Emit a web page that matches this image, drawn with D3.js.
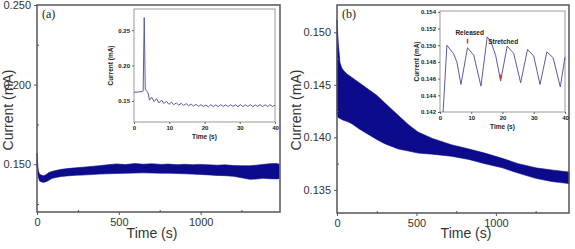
<!DOCTYPE html>
<html>
<head>
<meta charset="utf-8">
<script src="https://cdn.jsdelivr.net/npm/d3@7"></script>
<style>
	body { margin: 0; background: #fff; }
	svg { display: block; font-family: "Liberation Sans", Arial, sans-serif; }
</style>
</head>
<body>
<div id="chart"></div>
<script>
//Dados - painel (a): [tempo, inferior, superior] da faixa de ruído
var bandA = [
	[0, 0.150, 0.157], [3, 0.146, 0.152], [8, 0.142, 0.146], [15, 0.1395, 0.1438],
	[25, 0.1390, 0.1432], [40, 0.1386, 0.1428], [55, 0.1390, 0.1434], [70, 0.1398, 0.1446],
	[90, 0.1410, 0.1455], [115, 0.1417, 0.1461], [150, 0.1423, 0.1468], [200, 0.1428, 0.1474],
	[240, 0.1431, 0.1478], [280, 0.1432, 0.1481], [330, 0.1435, 0.1486], [380, 0.1438, 0.1491],
	[430, 0.1440, 0.1496], [485, 0.1442, 0.1502], [540, 0.1443, 0.1498], [600, 0.1445, 0.1504],
	[650, 0.1446, 0.1500], [700, 0.1445, 0.1503], [760, 0.1443, 0.1499], [800, 0.1444, 0.1501],
	[860, 0.1442, 0.1497], [900, 0.1440, 0.1500], [950, 0.1438, 0.1497], [995, 0.1436, 0.1499],
	[1050, 0.1433, 0.1496], [1100, 0.1430, 0.1494], [1150, 0.1428, 0.1496], [1200, 0.1424, 0.1492],
	[1250, 0.1415, 0.1491], [1300, 0.1405, 0.1490], [1340, 0.1407, 0.1494], [1380, 0.1412, 0.1499],
	[1420, 0.1409, 0.1503], [1465, 0.1408, 0.1505], [1480, 0.1410, 0.1500]
];
//Dados - painel (b)
var bandB = [
	[0, 0.1422, 0.1512], [3, 0.1420, 0.1503], [8, 0.1419, 0.1490], [19, 0.1418, 0.1471],
	[30, 0.1417, 0.1466], [45, 0.1416, 0.1463], [65, 0.1415, 0.1460], [94, 0.1413, 0.1457],
	[140, 0.1408, 0.1452], [195, 0.1403, 0.1446], [250, 0.1398, 0.1440], [300, 0.1394, 0.1433],
	[385, 0.1389, 0.1421], [450, 0.1387, 0.1412], [510, 0.1385, 0.1405], [600, 0.1384, 0.1399],
	[720, 0.1382, 0.1393], [830, 0.1379, 0.1389], [930, 0.1375, 0.1385], [1040, 0.1371, 0.1380],
	[1140, 0.1366, 0.1375], [1250, 0.1361, 0.1371], [1350, 0.1358, 0.1369], [1460, 0.1356, 0.1367]
];
//Detalhe (a): corrente nos primeiros 40 s
var insetA = [
	[0, 0.162], [2.3, 0.163], [2.6, 0.164], [2.9, 0.268], [3.2, 0.166], [3.6, 0.164],
	[4.0, 0.161], [4.4, 0.151], [5.0, 0.155], [5.7, 0.149], [6.4, 0.153], [7.1, 0.147],
	[7.8, 0.151], [8.5, 0.146], [9.2, 0.1495], [9.9, 0.145], [10.6, 0.148], [11.3, 0.1445],
	[12.0, 0.147], [12.7, 0.144], [13.4, 0.1465], [14.1, 0.1435], [14.8, 0.146], [15.5, 0.143],
	[16.2, 0.1455], [16.9, 0.1425], [17.6, 0.145], [18.3, 0.142], [19.0, 0.1445], [19.7, 0.142],
	[20.4, 0.144], [21.1, 0.1415], [21.8, 0.1445], [22.5, 0.1418], [23.2, 0.1442], [23.9, 0.1418],
	[24.6, 0.1445], [25.3, 0.142], [26.0, 0.1443], [26.7, 0.1418], [27.4, 0.1445], [28.1, 0.142],
	[28.8, 0.1443], [29.5, 0.1418], [30.2, 0.1445], [30.9, 0.1418], [31.6, 0.1443], [32.3, 0.142],
	[33.0, 0.1445], [33.7, 0.1418], [34.4, 0.1442], [35.1, 0.142], [35.8, 0.1445], [36.5, 0.1418],
	[37.2, 0.1443], [37.9, 0.142], [38.6, 0.1445], [39.3, 0.1419], [40, 0.1438]
];
//Detalhe (b): ciclos esticado / solto
var insetB = [
	[1.0, 0.1420], [2.2, 0.1500], [4.3, 0.1490], [5.4, 0.1480], [6.7, 0.1453], [8.8, 0.1497],
	[10.8, 0.1488], [13.1, 0.1451], [15.1, 0.1510], [16.2, 0.1505], [17.8, 0.1488], [19.4, 0.1457],
	[21.5, 0.1499], [23.6, 0.1490], [25.8, 0.1455], [28.0, 0.1495], [30.0, 0.1487], [32.0, 0.1453],
	[34.2, 0.1492], [36.2, 0.1485], [38.5, 0.1450], [40, 0.1486]
];
var xTicksMain = [0, 500, 1000];
var yTicksA = [0.150, 0.200, 0.250];
var yTicksB = [0.135, 0.140, 0.145, 0.150];
var xTicksInset = [0, 10, 20, 30, 40];
var yTicksInsetA = [0.15, 0.20, 0.25];
var yTicksInsetB = [0.142, 0.144, 0.146, 0.148, 0.150, 0.152, 0.154];

(function (viz) {
	'use strict';
	viz.colors = { band: "#0b0b8c", trace: "#5a5aa6", frame: "#555", inset: "#999", text: "#333" };

	viz.svg = d3.select("#chart").append("svg")
		.attr("width", 575)
		.attr("height", 249);

	//Painel principal: faixa preenchida
	viz.panel = function(cfg) {
		var x = d3.scaleLinear().domain(cfg.xDomain).range([cfg.left, cfg.right]);
		var y = d3.scaleLinear().domain(cfg.yDomain).range([cfg.bottom, cfg.top]);
		var g = viz.svg.append("g");
		var area = d3.area()
			.x(function(d) { return x(d[0]); })
			.y0(function(d) { return y(d[1]); })
			.y1(function(d) { return y(d[2]); });
		g.append("path").datum(cfg.data)
			.attr("d", area)
			.attr("fill", viz.colors.band)
			.attr("stroke", viz.colors.band)
			.attr("stroke-width", 0.6);
		//Eixos
		var xAxis = d3.axisBottom(x).tickValues(cfg.xTicks).tickSize(3).tickSizeOuter(0).tickFormat(d3.format("d"));
		var xMinor = d3.axisBottom(x).tickValues(cfg.xMinor).tickSize(-2).tickFormat("");
		var yAxis = d3.axisLeft(y).tickValues(cfg.yTicks).tickSize(3).tickSizeOuter(0).tickFormat(d3.format(".3f"));
		var yMinor = d3.axisLeft(y).tickValues(cfg.yMinor).tickSize(-2).tickFormat("");
		[[xAxis, "translate(0," + cfg.bottom + ")"], [xMinor, "translate(0," + cfg.bottom + ")"],
		 [yAxis, "translate(" + cfg.left + ",0)"], [yMinor, "translate(" + cfg.left + ",0)"]].forEach(function(a) {
			var ax = g.append("g").attr("transform", a[1]).call(a[0]);
			ax.select(".domain").remove();
			ax.selectAll("line").attr("stroke", viz.colors.frame).attr("stroke-width", 1);
			ax.selectAll("text").attr("font-size", 11).attr("fill", viz.colors.text)
				.attr("font-family", "Liberation Sans, Arial, sans-serif");
		});
		g.append("rect")
			.attr("x", cfg.left).attr("y", cfg.top)
			.attr("width", cfg.right - cfg.left).attr("height", cfg.bottom - cfg.top)
			.attr("fill", "none").attr("stroke", viz.colors.frame).attr("stroke-width", 1.5);
		g.append("text")
			.attr("x", cfg.xLabelX).attr("y", 238)
			.attr("text-anchor", "middle").attr("font-size", 14).attr("fill", viz.colors.text)
			.text("Time (s)");
		g.append("text")
			.attr("transform", "translate(" + cfg.yLabelX + "," + cfg.yLabelY + ") rotate(-90)")
			.attr("text-anchor", "middle").attr("font-size", 14).attr("fill", viz.colors.text)
			.text("Current (mA)");
		g.append("text")
			.attr("x", cfg.left + 5).attr("y", cfg.top + 13)
			.attr("font-family", "Liberation Serif, serif").attr("font-size", 12).attr("fill", "#222")
			.text(cfg.tag);
		return { x: x, y: y, g: g };
	};

	//Gráfico de detalhe
	viz.inset = function(cfg) {
		var x = d3.scaleLinear().domain([0, 40]).range([cfg.left, cfg.right]);
		var y = d3.scaleLinear().domain(cfg.yDomain).range([cfg.bottom, cfg.top]);
		var g = viz.svg.append("g");
		g.append("rect")
			.attr("x", cfg.left).attr("y", cfg.top)
			.attr("width", cfg.right - cfg.left).attr("height", cfg.bottom - cfg.top)
			.attr("fill", "#fff").attr("stroke", viz.colors.inset).attr("stroke-width", 1);
		var line = d3.line()
			.x(function(d) { return x(d[0]); })
			.y(function(d) { return y(d[1]); });
		g.append("path").datum(cfg.data)
			.attr("d", line)
			.attr("fill", "none")
			.attr("stroke", viz.colors.trace)
			.attr("stroke-width", 1);
		var xAxis = d3.axisBottom(x).tickValues(xTicksInset).tickSize(2).tickSizeOuter(0).tickPadding(2);
		var yAxis = d3.axisLeft(y).tickValues(cfg.yTicks).tickSize(2).tickSizeOuter(0).tickPadding(2)
			.tickFormat(d3.format(cfg.yFormat));
		[[xAxis, "translate(0," + cfg.bottom + ")"], [yAxis, "translate(" + cfg.left + ",0)"]].forEach(function(a) {
			var ax = g.append("g").attr("transform", a[1]).call(a[0]);
			ax.select(".domain").remove();
			ax.selectAll("line").attr("stroke", "#666");
			ax.selectAll("text").attr("font-size", 6).attr("font-weight", "bold").attr("fill", "#222")
				.attr("font-family", "Liberation Sans, Arial, sans-serif");
		});
		g.append("text")
			.attr("x", (cfg.left + cfg.right) / 2).attr("y", cfg.bottom + 17)
			.attr("text-anchor", "middle").attr("font-size", 6.5).attr("font-weight", "bold").attr("fill", "#222")
			.text("Time (s)");
		g.append("text")
			.attr("transform", "translate(" + (cfg.left - 21) + "," + ((cfg.top + cfg.bottom) / 2) + ") rotate(-90)")
			.attr("text-anchor", "middle").attr("font-size", 6.5).attr("font-weight", "bold").attr("fill", "#222")
			.text("Current (mA)");
		return { x: x, y: y, g: g };
	};

	viz.panel({
		data: bandA, left: 37, right: 280, top: 5, bottom: 212,
		xDomain: [0, 1485], yDomain: [0.12, 0.25],
		xTicks: xTicksMain, xMinor: [250, 750, 1250],
		yTicks: yTicksA, yMinor: [0.125, 0.175, 0.225],
		xLabelX: 152, yLabelX: 13, yLabelY: 110, tag: "(a)"
	});
	viz.panel({
		data: bandB, left: 337, right: 569, top: 5, bottom: 213,
		xDomain: [0, 1460], yDomain: [0.1328, 0.1526],
		xTicks: xTicksMain, xMinor: [250, 750, 1250],
		yTicks: yTicksB, yMinor: [0.1375, 0.1425, 0.1475],
		xLabelX: 466, yLabelX: 301, yLabelY: 110, tag: "(b)"
	});
	viz.inset({
		data: insetA, left: 134, right: 275, top: 9, bottom: 122,
		yDomain: [0.12, 0.28], yTicks: yTicksInsetA, yFormat: ".2f"
	});
	var ib = viz.inset({
		data: insetB, left: 440, right: 565, top: 11, bottom: 112,
		yDomain: [0.142, 0.1541], yTicks: yTicksInsetB, yFormat: ".3f"
	});
	//Marcadores esticado / solto
	ib.g.append("line")
		.attr("x1", ib.x(8.8)).attr("x2", ib.x(8.8))
		.attr("y1", ib.y(0.1508)).attr("y2", ib.y(0.1502))
		.attr("stroke", "#d33").attr("stroke-width", 1.5);
	ib.g.append("line")
		.attr("x1", ib.x(19.4)).attr("x2", ib.x(19.4))
		.attr("y1", ib.y(0.1465)).attr("y2", ib.y(0.1460))
		.attr("stroke", "#d33").attr("stroke-width", 1.5);
	ib.g.append("text")
		.attr("x", ib.x(9.5)).attr("y", ib.y(0.1512))
		.attr("text-anchor", "middle").attr("font-size", 6.5).attr("font-weight", "bold").attr("fill", "#222")
		.text("Released");
	ib.g.append("text")
		.attr("x", ib.x(15.4)).attr("y", ib.y(0.1502))
		.attr("font-size", 6.5).attr("font-weight", "bold").attr("fill", "#222")
		.text("Stretched");
}(window.viz = window.viz || {}));
</script>
</body>
</html>
